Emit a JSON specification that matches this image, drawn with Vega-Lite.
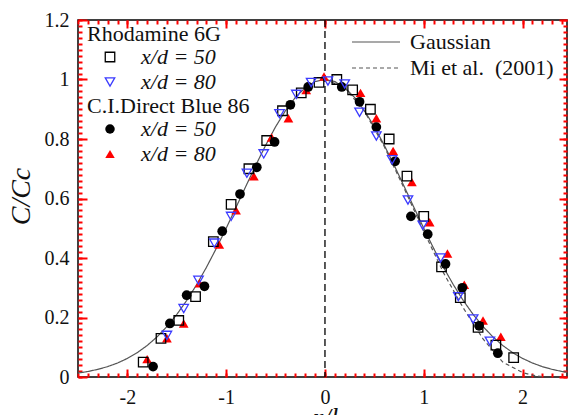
{
  "$schema": "https://vega.github.io/schema/vega-lite/v6.json",
  "width": 489,
  "height": 357,
  "autosize": {"type": "none"},
  "padding": {"left": 78, "top": 20, "right": 6, "bottom": 38},
  "background": "white",
  "config": {
    "view": {"stroke": "#000", "strokeWidth": 1.5},
    "font": "Liberation Serif",
    "axis": {"domain": false, "grid": false, "ticks": true, "tickColor": "#f00", "tickWidth": 2, "labelFont": "Liberation Serif", "labelFontSize": 20, "labelColor": "#111", "titleFont": "Liberation Serif", "titleColor": "#111", "titleFontWeight": "normal"}
  },
  "datasets": {
    "gauss": [
      {"r": -2.5, "c": 0.0131, "curve": "Gaussian"}, {"r": -2.4, "c": 0.0185, "curve": "Gaussian"}, {"r": -2.3, "c": 0.0256, "curve": "Gaussian"}, {"r": -2.2, "c": 0.0349, "curve": "Gaussian"}, {"r": -2.1, "c": 0.047, "curve": "Gaussian"}, {"r": -2.0, "c": 0.0625, "curve": "Gaussian"}, {"r": -1.9, "c": 0.0819, "curve": "Gaussian"}, {"r": -1.8, "c": 0.1058, "curve": "Gaussian"}, {"r": -1.7, "c": 0.1349, "curve": "Gaussian"}, {"r": -1.6, "c": 0.1696, "curve": "Gaussian"}, {"r": -1.5, "c": 0.2102, "curve": "Gaussian"}, {"r": -1.4, "c": 0.2571, "curve": "Gaussian"}, {"r": -1.3, "c": 0.3099, "curve": "Gaussian"}, {"r": -1.2, "c": 0.3686, "curve": "Gaussian"}, {"r": -1.1, "c": 0.4323, "curve": "Gaussian"}, {"r": -1.0, "c": 0.5, "curve": "Gaussian"}, {"r": -0.9, "c": 0.5704, "curve": "Gaussian"}, {"r": -0.8, "c": 0.6417, "curve": "Gaussian"}, {"r": -0.7, "c": 0.712, "curve": "Gaussian"}, {"r": -0.6, "c": 0.7792, "curve": "Gaussian"}, {"r": -0.5, "c": 0.8409, "curve": "Gaussian"}, {"r": -0.4, "c": 0.895, "curve": "Gaussian"}, {"r": -0.3, "c": 0.9395, "curve": "Gaussian"}, {"r": -0.2, "c": 0.9727, "curve": "Gaussian"}, {"r": -0.1, "c": 0.9931, "curve": "Gaussian"}, {"r": 0, "c": 1, "curve": "Gaussian"}, {"r": 0.1, "c": 0.9931, "curve": "Gaussian"}, {"r": 0.2, "c": 0.9727, "curve": "Gaussian"}, {"r": 0.3, "c": 0.9395, "curve": "Gaussian"}, {"r": 0.4, "c": 0.895, "curve": "Gaussian"}, {"r": 0.5, "c": 0.8409, "curve": "Gaussian"}, {"r": 0.6, "c": 0.7792, "curve": "Gaussian"}, {"r": 0.7, "c": 0.712, "curve": "Gaussian"}, {"r": 0.8, "c": 0.6417, "curve": "Gaussian"}, {"r": 0.9, "c": 0.5704, "curve": "Gaussian"}, {"r": 1.0, "c": 0.5, "curve": "Gaussian"}, {"r": 1.1, "c": 0.4323, "curve": "Gaussian"}, {"r": 1.2, "c": 0.3686, "curve": "Gaussian"}, {"r": 1.3, "c": 0.3099, "curve": "Gaussian"}, {"r": 1.4, "c": 0.2571, "curve": "Gaussian"}, {"r": 1.5, "c": 0.2102, "curve": "Gaussian"}, {"r": 1.6, "c": 0.1696, "curve": "Gaussian"}, {"r": 1.7, "c": 0.1349, "curve": "Gaussian"}, {"r": 1.8, "c": 0.1058, "curve": "Gaussian"}, {"r": 1.9, "c": 0.0819, "curve": "Gaussian"}, {"r": 2.0, "c": 0.0625, "curve": "Gaussian"}, {"r": 2.1, "c": 0.047, "curve": "Gaussian"}, {"r": 2.2, "c": 0.0349, "curve": "Gaussian"}, {"r": 2.3, "c": 0.0256, "curve": "Gaussian"}, {"r": 2.4, "c": 0.0185, "curve": "Gaussian"}, {"r": 2.5, "c": 0.0131, "curve": "Gaussian"}
    ],
    "mi": [
      {"r": 0, "c": 1, "curve": "Mi et al.\u00a0 (2001)"}, {"r": 0.2, "c": 0.973, "curve": "Mi et al.\u00a0 (2001)"}, {"r": 0.4, "c": 0.893, "curve": "Mi et al.\u00a0 (2001)"}, {"r": 0.6, "c": 0.775, "curve": "Mi et al.\u00a0 (2001)"}, {"r": 0.8, "c": 0.635, "curve": "Mi et al.\u00a0 (2001)"}, {"r": 1.0, "c": 0.49, "curve": "Mi et al.\u00a0 (2001)"}, {"r": 1.2, "c": 0.35, "curve": "Mi et al.\u00a0 (2001)"}, {"r": 1.4, "c": 0.232, "curve": "Mi et al.\u00a0 (2001)"}, {"r": 1.6, "c": 0.128, "curve": "Mi et al.\u00a0 (2001)"}, {"r": 1.8, "c": 0.05, "curve": "Mi et al.\u00a0 (2001)"}, {"r": 2.0, "c": 0.015, "curve": "Mi et al.\u00a0 (2001)"}, {"r": 2.1, "c": 0.006, "curve": "Mi et al.\u00a0 (2001)"}, {"r": 2.2, "c": 0.001, "curve": "Mi et al.\u00a0 (2001)"}
    ],
    "rho": [
      {"r": -1.84, "c": 0.05, "series": "x/d = 50"}, {"r": -1.66, "c": 0.13, "series": "x/d = 50"}, {"r": -1.48, "c": 0.19, "series": "x/d = 50"}, {"r": -1.31, "c": 0.27, "series": "x/d = 50"}, {"r": -1.13, "c": 0.455, "series": "x/d = 50"}, {"r": -0.95, "c": 0.58, "series": "x/d = 50"}, {"r": -0.77, "c": 0.7, "series": "x/d = 50"}, {"r": -0.59, "c": 0.795, "series": "x/d = 50"}, {"r": -0.43, "c": 0.895, "series": "x/d = 50"}, {"r": -0.24, "c": 0.955, "series": "x/d = 50"}, {"r": -0.06, "c": 0.99, "series": "x/d = 50"}, {"r": 0.12, "c": 1.0, "series": "x/d = 50"}, {"r": 0.28, "c": 0.965, "series": "x/d = 50"}, {"r": 0.46, "c": 0.9, "series": "x/d = 50"}, {"r": 0.65, "c": 0.8, "series": "x/d = 50"}, {"r": 0.83, "c": 0.675, "series": "x/d = 50"}, {"r": 1.0, "c": 0.54, "series": "x/d = 50"}, {"r": 1.18, "c": 0.37, "series": "x/d = 50"}, {"r": 1.37, "c": 0.267, "series": "x/d = 50"}, {"r": 1.55, "c": 0.167, "series": "x/d = 50"}, {"r": 1.73, "c": 0.107, "series": "x/d = 50"}, {"r": 1.91, "c": 0.065, "series": "x/d = 50"},
      {"r": -1.6, "c": 0.14, "series": "x/d = 80"}, {"r": -1.43, "c": 0.23, "series": "x/d = 80"}, {"r": -1.28, "c": 0.325, "series": "x/d = 80"}, {"r": -1.12, "c": 0.45, "series": "x/d = 80"}, {"r": -0.95, "c": 0.54, "series": "x/d = 80"}, {"r": -0.79, "c": 0.685, "series": "x/d = 80"}, {"r": -0.62, "c": 0.75, "series": "x/d = 80"}, {"r": -0.46, "c": 0.885, "series": "x/d = 80"}, {"r": -0.29, "c": 0.95, "series": "x/d = 80"}, {"r": -0.14, "c": 0.99, "series": "x/d = 80"}, {"r": 0.03, "c": 0.995, "series": "x/d = 80"}, {"r": 0.2, "c": 0.985, "series": "x/d = 80"}, {"r": 0.35, "c": 0.89, "series": "x/d = 80"}, {"r": 0.52, "c": 0.81, "series": "x/d = 80"}, {"r": 0.68, "c": 0.73, "series": "x/d = 80"}, {"r": 0.84, "c": 0.595, "series": "x/d = 80"}, {"r": 0.99, "c": 0.51, "series": "x/d = 80"}, {"r": 1.17, "c": 0.4, "series": "x/d = 80"}, {"r": 1.35, "c": 0.27, "series": "x/d = 80"}, {"r": 1.5, "c": 0.195, "series": "x/d = 80"}, {"r": 1.67, "c": 0.12, "series": "x/d = 80"}
    ],
    "blue86": [
      {"r": -1.8, "c": 0.06, "series": "x/d = 80"}, {"r": -1.6, "c": 0.13, "series": "x/d = 80"}, {"r": -1.43, "c": 0.18, "series": "x/d = 80"}, {"r": -1.27, "c": 0.315, "series": "x/d = 80"}, {"r": -1.07, "c": 0.445, "series": "x/d = 80"}, {"r": -0.9, "c": 0.56, "series": "x/d = 80"}, {"r": -0.72, "c": 0.675, "series": "x/d = 80"}, {"r": -0.54, "c": 0.805, "series": "x/d = 80"}, {"r": -0.37, "c": 0.87, "series": "x/d = 80"}, {"r": -0.19, "c": 0.965, "series": "x/d = 80"}, {"r": -0.01, "c": 1.01, "series": "x/d = 80"}, {"r": 0.36, "c": 0.955, "series": "x/d = 80"}, {"r": 0.52, "c": 0.87, "series": "x/d = 80"}, {"r": 0.69, "c": 0.76, "series": "x/d = 80"}, {"r": 0.88, "c": 0.655, "series": "x/d = 80"}, {"r": 1.06, "c": 0.52, "series": "x/d = 80"}, {"r": 1.24, "c": 0.415, "series": "x/d = 80"}, {"r": 1.41, "c": 0.31, "series": "x/d = 80"}, {"r": 1.6, "c": 0.19, "series": "x/d = 80"}, {"r": 1.78, "c": 0.135, "series": "x/d = 80"},
      {"r": -1.74, "c": 0.035, "series": "x/d = 50"}, {"r": -1.57, "c": 0.18, "series": "x/d = 50"}, {"r": -1.4, "c": 0.275, "series": "x/d = 50"}, {"r": -1.22, "c": 0.305, "series": "x/d = 50"}, {"r": -1.04, "c": 0.49, "series": "x/d = 50"}, {"r": -0.86, "c": 0.615, "series": "x/d = 50"}, {"r": -0.69, "c": 0.705, "series": "x/d = 50"}, {"r": -0.51, "c": 0.79, "series": "x/d = 50"}, {"r": -0.35, "c": 0.915, "series": "x/d = 50"}, {"r": -0.17, "c": 0.975, "series": "x/d = 50"}, {"r": 0.17, "c": 0.975, "series": "x/d = 50"}, {"r": 0.35, "c": 0.925, "series": "x/d = 50"}, {"r": 0.52, "c": 0.84, "series": "x/d = 50"}, {"r": 0.71, "c": 0.725, "series": "x/d = 50"}, {"r": 0.87, "c": 0.54, "series": "x/d = 50"}, {"r": 1.04, "c": 0.48, "series": "x/d = 50"}, {"r": 1.22, "c": 0.38, "series": "x/d = 50"}, {"r": 1.39, "c": 0.3, "series": "x/d = 50"}, {"r": 1.56, "c": 0.172, "series": "x/d = 50"}, {"r": 1.75, "c": 0.08, "series": "x/d = 50"}
    ],
    "center": [{"x0": 0}]
  },
  "layer": [
    {
      "data": {"name": "gauss"},
      "mark": {"type": "line", "color": "#555", "strokeWidth": 1.2, "clip": true},
      "encoding": {
        "x": {"field": "r", "type": "quantitative", "scale": {"domain": [-2.5, 2.45], "nice": false, "zero": false},
          "axis": {"orient": "bottom", "values": [-2, -1, 0, 1, 2], "ticks": true, "tickSize": -8, "labelPadding": 34, "labelBaseline": "alphabetic", "labelExpr": "'' + datum.value", "title": "r/l", "titleFontSize": 27, "titleFontStyle": "italic", "titleX": 247, "titleY": 49, "titleBaseline": "alphabetic"}},
        "y": {"field": "c", "type": "quantitative", "scale": {"domain": [0, 1.2], "nice": false, "zero": false},
          "axis": {"orient": "left", "values": [0, 0.2, 0.4, 0.6, 0.8, 1, 1.2], "ticks": true, "tickSize": -9, "labelPadding": 18, "labelExpr": "'' + datum.value", "title": "C/Cc", "titleFontSize": 28, "titleFontStyle": "italic", "titleX": -49, "titleY": 176, "titleBaseline": "alphabetic", "titleAngle": -90}},
        "strokeDash": {"field": "curve", "type": "nominal",
          "scale": {"domain": ["Gaussian", "Mi et al.\u00a0 (2001)"], "range": [[1, 0], [4, 3]]},
          "legend": {"orient": "none", "legendX": 287, "legendY": 11, "title": null, "padding": 0, "labelFont": "Liberation Serif", "labelFontSize": 22, "labelColor": "#111", "labelLimit": 300, "symbolType": "M-4,0L4,0", "symbolSize": 144, "symbolStrokeWidth": 1.2, "symbolStrokeColor": "#333", "symbolOffset": 0, "labelOffset": 23, "rowPadding": 4}}
      }
    },
    {
      "data": {"name": "mi"},
      "mark": {"type": "line", "color": "#555", "strokeWidth": 1.2, "clip": true},
      "encoding": {
        "x": {"field": "r", "type": "quantitative", "scale": {"domain": [-2.5, 2.45], "nice": false, "zero": false},
          "axis": {"orient": "bottom", "values": [-2.5,-2.4,-2.3,-2.2,-2.1,-2,-1.9,-1.8,-1.7,-1.6,-1.5,-1.4,-1.3,-1.2,-1.1,-1,-0.9,-0.8,-0.7,-0.6,-0.5,-0.4,-0.3,-0.2,-0.1,0,0.1,0.2,0.3,0.4,0.5,0.6,0.7,0.8,0.9,1,1.1,1.2,1.3,1.4,1.5,1.6,1.7,1.8,1.9,2,2.1,2.2,2.3,2.4], "ticks": true, "tickSize": -4, "labels": false, "title": null}},
        "y": {"field": "c", "type": "quantitative", "scale": {"domain": [0, 1.2], "nice": false, "zero": false},
          "axis": {"orient": "left", "values": [0,0.02,0.04,0.06,0.08,0.1,0.12,0.14,0.16,0.18,0.2,0.22,0.24,0.26,0.28,0.3,0.32,0.34,0.36,0.38,0.4,0.42,0.44,0.46,0.48,0.5,0.52,0.54,0.56,0.58,0.6,0.62,0.64,0.66,0.68,0.7,0.72,0.74,0.76,0.78,0.8,0.82,0.84,0.86,0.88,0.9,0.92,0.94,0.96,0.98,1,1.02,1.04,1.06,1.08,1.1,1.12,1.14,1.16,1.18,1.2], "ticks": true, "tickSize": -4, "labels": false, "title": null}},
        "strokeDash": {"field": "curve", "type": "nominal", "scale": {"domain": ["Gaussian", "Mi et al.\u00a0 (2001)"], "range": [[1, 0], [4, 3]]}}
      }
    },
    {
      "data": {"name": "center"},
      "mark": {"type": "rule", "color": "#000", "strokeWidth": 1.3, "strokeDash": [7, 4]},
      "encoding": {
        "x": {"field": "x0", "type": "quantitative", "scale": {"domain": [-2.5, 2.45], "nice": false, "zero": false},
          "axis": {"orient": "top", "values": [-2, -1, 0, 1, 2], "ticks": true, "tickSize": -8, "labels": false, "title": null}}
      }
    },
    {
      "data": {"name": "blue86"},
      "mark": {"type": "point", "filled": true, "size": 95, "opacity": 1},
      "encoding": {
        "x": {"field": "r", "type": "quantitative", "scale": {"domain": [-2.5, 2.45], "nice": false, "zero": false},
          "axis": {"orient": "top", "values": [-2.5,-2.4,-2.3,-2.2,-2.1,-2,-1.9,-1.8,-1.7,-1.6,-1.5,-1.4,-1.3,-1.2,-1.1,-1,-0.9,-0.8,-0.7,-0.6,-0.5,-0.4,-0.3,-0.2,-0.1,0,0.1,0.2,0.3,0.4,0.5,0.6,0.7,0.8,0.9,1,1.1,1.2,1.3,1.4,1.5,1.6,1.7,1.8,1.9,2,2.1,2.2,2.3,2.4], "ticks": true, "tickSize": -4, "labels": false, "title": null}},
        "y": {"field": "c", "type": "quantitative", "scale": {"domain": [0, 1.2], "nice": false, "zero": false},
          "axis": {"orient": "right", "values": [0, 0.2, 0.4, 0.6, 0.8, 1, 1.2], "ticks": true, "tickSize": -8, "labels": false, "title": null}},
        "shape": {"field": "series", "type": "nominal", "scale": {"domain": ["x/d = 50", "x/d = 80"], "range": ["circle", "triangle-up"]},
          "legend": {"orient": "none", "legendX": 9, "legendY": 76, "title": "C.I.Direct Blue 86", "padding": 0, "titleFont": "Liberation Serif", "titleFontSize": 22, "titleFontWeight": "normal", "titleColor": "#111", "titleLimit": 300, "labelFont": "Liberation Serif", "labelFontSize": 22, "labelColor": "#111", "labelLimit": 300, "symbolSize": 90, "symbolOffset": 12, "labelOffset": 20, "rowPadding": 3, "titlePadding": 0, "labelFontStyle": "italic"}},
        "color": {"field": "series", "type": "nominal", "scale": {"domain": ["x/d = 50", "x/d = 80"], "range": ["#000000", "#ff0000"]},
          "legend": {"orient": "none", "legendX": 9, "legendY": 76, "title": "C.I.Direct Blue 86", "padding": 0, "titleFont": "Liberation Serif", "titleFontSize": 22, "titleFontWeight": "normal", "titleColor": "#111", "titleLimit": 300, "labelFont": "Liberation Serif", "labelFontSize": 22, "labelColor": "#111", "labelLimit": 300, "symbolSize": 90, "symbolOffset": 12, "labelOffset": 20, "rowPadding": 3, "titlePadding": 0, "labelFontStyle": "italic"}}
      }
    },
    {
      "data": {"name": "rho"},
      "mark": {"type": "point", "filled": false, "size": 90, "strokeWidth": 1.3, "opacity": 1},
      "encoding": {
        "x": {"field": "r", "type": "quantitative", "scale": {"domain": [-2.5, 2.45], "nice": false, "zero": false}, "axis": null},
        "y": {"field": "c", "type": "quantitative", "scale": {"domain": [0, 1.2], "nice": false, "zero": false},
          "axis": {"orient": "right", "values": [0,0.02,0.04,0.06,0.08,0.1,0.12,0.14,0.16,0.18,0.2,0.22,0.24,0.26,0.28,0.3,0.32,0.34,0.36,0.38,0.4,0.42,0.44,0.46,0.48,0.5,0.52,0.54,0.56,0.58,0.6,0.62,0.64,0.66,0.68,0.7,0.72,0.74,0.76,0.78,0.8,0.82,0.84,0.86,0.88,0.9,0.92,0.94,0.96,0.98,1,1.02,1.04,1.06,1.08,1.1,1.12,1.14,1.16,1.18,1.2], "ticks": true, "tickSize": -4, "labels": false, "title": null}},
        "shape": {"field": "series", "type": "nominal", "scale": {"domain": ["x/d = 50", "x/d = 80"], "range": ["square", "triangle-down"]},
          "legend": {"orient": "none", "legendX": 9, "legendY": 4, "title": "Rhodamine 6G", "padding": 0, "titleFont": "Liberation Serif", "titleFontSize": 22, "titleFontWeight": "normal", "titleColor": "#111", "titleLimit": 300, "labelFont": "Liberation Serif", "labelFontSize": 22, "labelColor": "#111", "labelLimit": 300, "symbolSize": 90, "symbolOffset": 12, "labelOffset": 20, "rowPadding": 3, "titlePadding": 0, "labelFontStyle": "italic", "symbolStrokeWidth": 1.3}},
        "color": {"field": "series", "type": "nominal", "scale": {"domain": ["x/d = 50", "x/d = 80"], "range": ["#000000", "#3b3bff"]},
          "legend": {"orient": "none", "legendX": 9, "legendY": 4, "title": "Rhodamine 6G", "padding": 0, "titleFont": "Liberation Serif", "titleFontSize": 22, "titleFontWeight": "normal", "titleColor": "#111", "titleLimit": 300, "labelFont": "Liberation Serif", "labelFontSize": 22, "labelColor": "#111", "labelLimit": 300, "symbolSize": 90, "symbolOffset": 12, "labelOffset": 20, "rowPadding": 3, "titlePadding": 0, "labelFontStyle": "italic", "symbolStrokeWidth": 1.3}}
      }
    }
  ],
  "resolve": {
    "scale": {"shape": "independent", "color": "independent"},
    "axis": {"x": "independent", "y": "independent"}
  }
}
